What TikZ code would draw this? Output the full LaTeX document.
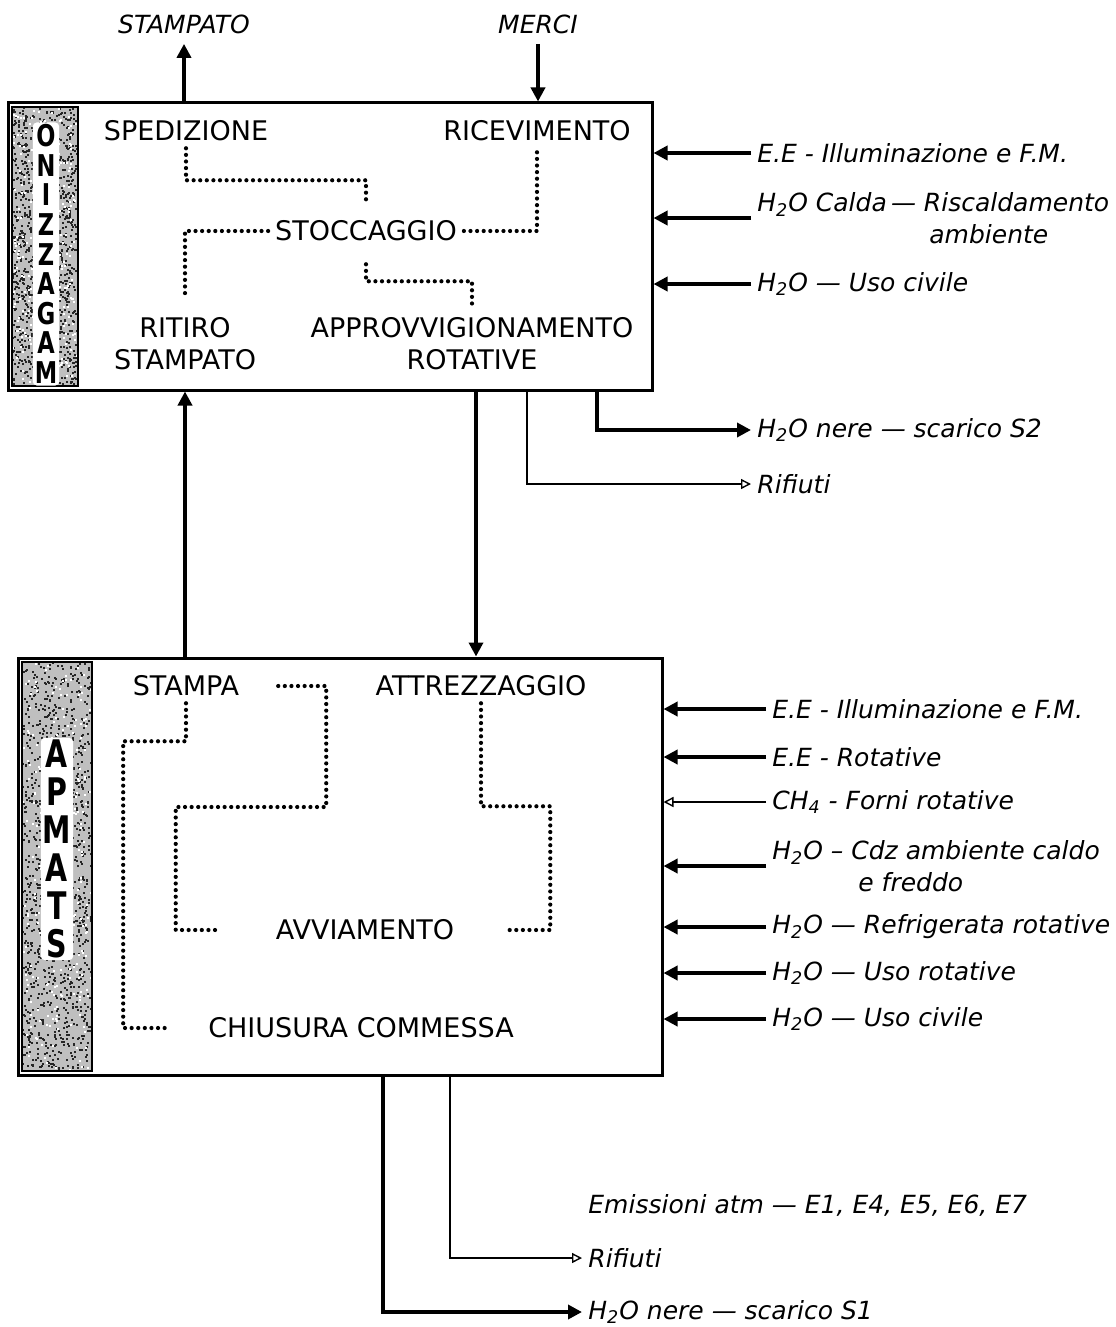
\documentclass[tikz,border=0pt]{standalone}
\usepackage{fontspec}
\setmainfont{DejaVu Sans}
\usepackage{tikz}
\usetikzlibrary{arrows.meta,calc}
\tikzset{
  blk/.style={draw, line width=1.5pt, inner sep=0pt},
  fase/.style={font=\fontsize{13.5}{16}\selectfont, align=center},
  io/.style={font=\fontsize{12.5}{16}\selectfont\itshape, inner sep=3pt},
  lbl/.style={font=\fontsize{12.5}{16}\selectfont\itshape, anchor=west, inner sep=3pt, align=left},
  flow/.style={-{Triangle[length=7pt,width=7pt]}, line width=2pt},
  oflow/.style={-{Triangle[open,length=5pt,width=5pt]}, line width=0.7pt},
  dotline/.style={line width=2.1pt, line cap=round, dash pattern=on 0pt off 3.3pt},
  strip/.style={draw, line width=0.6pt},
  sidetxt/.style={font=\fontsize{15}{14.8}\selectfont\bfseries, align=center, inner sep=1pt,
                  fill=white, rounded corners=2pt},
}
\newcommand{\nl}[1]{\scalebox{0.75}[1]{#1}}
% speckled texture of the side strips
\newcommand{\speckle}[4]{%
  \fill[black!25] (#1,#2) rectangle ++(#3,#4);
  \foreach \i in {1,...,1100}{\fill[black!85] ({#1+(#3-2)*rnd},{#2+(#4-2)*rnd}) rectangle ++(2,2);}
  \foreach \i in {1,...,250}{\fill[white] ({#1+(#3-2)*rnd},{#2+(#4-2)*rnd}) rectangle ++(2,2);}
  \draw[strip] (#1,#2) rectangle ++(#3,#4);}

\begin{document}
\begin{tikzpicture}[x=0.5pt, y=-0.5pt]
  \useasboundingbox (0,0) rectangle (1115,1327);
  \pgfmathsetseed{11}
  % the two departments
  \node[blk, minimum width=322pt, minimum height=143.5pt] (magaz) at (330,246.5) {};
  \node[blk, minimum width=322pt, minimum height=208.5pt] (stampbox) at (340,866.5) {};
  \speckle{12}{107}{66}{279}
  \speckle{22}{662}{70}{409}
  \node[sidetxt] (lmag) at (46,254) {\nl{O}\\\nl{N}\\\nl{I}\\\nl{Z}\\\nl{Z}\\\nl{A}\\\nl{G}\\\nl{A}\\\nl{M}};
  \node[sidetxt, font=\fontsize{19}{19}\selectfont\bfseries] (lsta) at (57,849) {\nl{A}\\\nl{P}\\\nl{M}\\\nl{A}\\\nl{T}\\\nl{S}};
  % phases
  \node[fase] (sped) at (186,131) {SPEDIZIONE};
  \node[fase] (ricev) at (537,131) {RICEVIMENTO};
  \node[fase] (stocc) at (366,231) {STOCCAGGIO};
  \node[fase] (ritiro) at (185,344) {RITIRO\\STAMPATO};
  \node[fase] (appro) at (472,344) {APPROVVIGIONAMENTO\\ROTATIVE};
  \node[fase] (stampa) at (186,686) {STAMPA};
  \node[fase] (attr) at (481,686) {ATTREZZAGGIO};
  \node[fase] (avv) at (365,930) {AVVIAMENTO};
  \node[fase] (chius) at (361,1028) {CHIUSURA COMMESSA};
  \draw[dotline, shorten >=5pt] (sped.south) -- ++(0,32) -| (stocc.north);
  \draw[dotline] (stocc.west) -| ([yshift=7pt]ritiro.north);
  \draw[dotline] (stocc.east) -| (ricev.south);
  \draw[dotline, shorten <=8pt, shorten >=3pt] (stocc.south) -- ++(0,33) -| (appro.north);
  \draw[dotline] (stampa.south) -- ++(0,38) -| ($(chius.west)+(-78,0)$) -- ($(chius.west)+(-36,0)$);
  \draw[dotline, shorten <=16pt] (stampa.east) -- ++(80,0) -- ++(0,121) -| ($(avv.west)+(-93,0)$) -- ($(avv.west)+(-50,0)$);
  \draw[dotline] (attr.south) -- ++(0,103) -| ($(avv.east)+(89,0)$) -- ($(avv.east)+(43,0)$);
  % goods in and out
  \node[io] (stampato) at (184,24) {STAMPATO};
  \node[io] (merci) at (538,24) {MERCI};
  \draw[flow, shorten >=2pt] (stampato.south |- magaz.north) -- (stampato.south);
  \draw[flow, shorten <=2pt] (merci.south) -- (merci.south |- magaz.north);
  \draw[flow] (ritiro.south |- stampbox.north) -- (ritiro.south |- magaz.south);
  \draw[flow] ([xshift=2pt]appro.south |- magaz.south) -- ([xshift=2pt]appro.south |- stampbox.north);
  % inputs magazzino
  \node[lbl] (ee1) at (751,153) {E.E - Illuminazione e F.M.};
  \node[lbl] (calda) at (751,218) {H\textsubscript{2}O Calda\,— Riscaldamento\\\hspace*{86pt}ambiente};
  \node[lbl] (civ1) at (751,284) {H\textsubscript{2}O — Uso civile};
  \draw[flow] (ee1.west) -- (ee1.west -| magaz.east);
  \draw[flow] (calda.west) -- (calda.west -| magaz.east);
  \draw[flow] (civ1.west) -- (civ1.west -| magaz.east);
  % outputs magazzino
  \node[lbl] (nere2) at (751,430) {H\textsubscript{2}O nere — scarico S2};
  \node[lbl] (rif1) at (751,484) {Rifiuti};
  \draw[flow] ([xshift=133.5pt]magaz.south) |- (nere2.west);
  \draw[oflow] ([xshift=98.5pt]magaz.south) |- (rif1.west);
  % inputs stampa
  \node[lbl] (ee2) at (766,709) {E.E - Illuminazione e F.M.};
  \node[lbl] (eerot) at (766,757) {E.E - Rotative};
  \node[lbl] (ch4) at (766,802) {CH\textsubscript{4} - Forni rotative};
  \node[lbl] (cdz) at (766,866) {H\textsubscript{2}O – Cdz ambiente caldo\\\hspace*{43pt}e freddo};
  \node[lbl] (refr) at (766,927) {H\textsubscript{2}O — Refrigerata rotative};
  \node[lbl] (usorot) at (766,973) {H\textsubscript{2}O — Uso rotative};
  \node[lbl] (civ2) at (766,1019) {H\textsubscript{2}O — Uso civile};
  \draw[flow] (ee2.west) -- (ee2.west -| stampbox.east);
  \draw[flow] (eerot.west) -- (eerot.west -| stampbox.east);
  \draw[oflow] (ch4.west) -- (ch4.west -| stampbox.east);
  \draw[flow] (cdz.west) -- (cdz.west -| stampbox.east);
  \draw[flow] (refr.west) -- (refr.west -| stampbox.east);
  \draw[flow] (usorot.west) -- (usorot.west -| stampbox.east);
  \draw[flow] (civ2.west) -- (civ2.west -| stampbox.east);
  % outputs stampa
  \node[lbl] (emiss) at (582,1205) {Emissioni atm — E1, E4, E5, E6, E7};
  \node[lbl] (rif2) at (582,1258) {Rifiuti};
  \node[lbl] (nere1) at (582,1312) {H\textsubscript{2}O nere — scarico S1};
  \draw[oflow] ([xshift=55pt]stampbox.south) |- (rif2.west);
  \draw[flow] ([xshift=21.5pt]stampbox.south) |- (nere1.west);
\end{tikzpicture}
\end{document}
